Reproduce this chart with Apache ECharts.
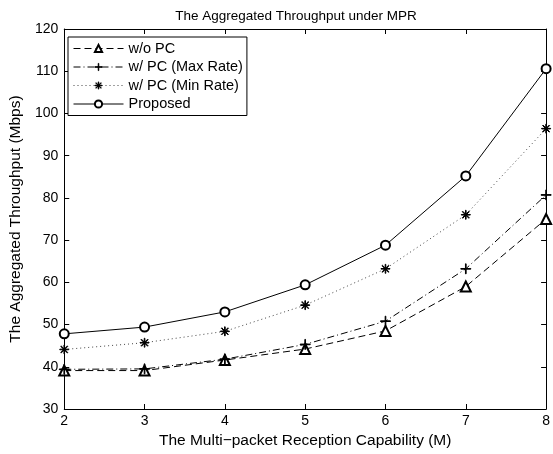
<!DOCTYPE html>
<html><head><meta charset="utf-8">
<script src="https://cdn.jsdelivr.net/npm/echarts@6/dist/echarts.min.js"></script>
<style>html,body{margin:0;padding:0;background:#fff}#c{width:553px;height:454px}</style>
</head><body><div id="c"></div>
<script>
var categoriesM = [2, 3, 4, 5, 6, 7, 8];
var woPC = [39.1, 39.1, 41.6, 44.2, 48.5, 59.0, 75.0];
var pcMaxRate = [39.4, 39.5, 41.8, 45.3, 50.8, 63.2, 80.7];
var pcMinRate = [44.1, 45.7, 48.4, 54.6, 63.2, 76.0, 96.4];
var proposed = [47.8, 49.4, 53.0, 59.4, 68.8, 85.2, 110.6];
var seriesNames = ['w/o PC', 'w/ PC (Max Rate)', 'w/ PC (Min Rate)', 'Proposed'];
var yTicks = [30, 40, 50, 60, 70, 80, 90, 100, 110, 120];

function pairs(vals){ return categoriesM.map(function(m,i){ return [m, vals[i]]; }); }

var plusPath = 'path://M0,5.6H12V6.4H0Z M5.6,0H6.4V12H5.6Z';
var starPath = 'path://M0,5.6H12V6.4H0Z M5.6,0H6.4V12H5.6Z M1.3,1.9L1.9,1.3L10.7,10.1L10.1,10.7Z M10.1,1.3L10.7,1.9L1.9,10.7L1.3,10.1Z';

var font = 'Liberation Sans, Arial, sans-serif';
var chart = echarts.init(document.getElementById('c'), null, {renderer:'canvas'});
function mk(name, data, symbol, size, ltype, color){
  return {
    name: name, type: 'line', data: pairs(data), symbol: symbol, symbolSize: size,
    xAxisIndex: 0, yAxisIndex: 0,
    lineStyle: {color: color || '#000', width: 1, type: ltype},
    itemStyle: {color: '#000', borderColor: '#000', borderWidth: 1},
    emphasis: {disabled: true}, animation: false, z: 3
  };
}
var axCommon = {
  axisLine: {show: true, onZero: false, lineStyle: {color: '#000', width: 1}},
  axisTick: {show: true, inside: true, length: 5, lineStyle: {color: '#000'}},
  splitLine: {show: false}
};
chart.setOption({
  animation: false,
  backgroundColor: '#fff',
  title: {text: 'The Aggregated Throughput under MPR', left: 291, top: 4, textAlign: 'center',
    textStyle: {fontFamily: font, fontSize: 13.5, fontWeight: 'normal', color: '#000'}},
  grid: {left: 62, right: 6, top: 29, bottom: 42, containLabel: false},
  legend: {
    left: 68, top: 37, orient: 'vertical', itemGap: 3.5, itemWidth: 50, itemHeight: 9,
    padding: [4, 4, 4, 5], borderColor: '#000', borderWidth: 1, backgroundColor: '#fff',
    textStyle: {fontFamily: font, fontSize: 14.5, color: '#000'},
    lineStyle: {width: 1},
    itemStyle: {borderWidth: 1},
    data: seriesNames
  },
  xAxis: [
    Object.assign({type: 'value', min: 2, max: 8, interval: 1, position: 'bottom',
      name: 'The Multi\u2212packet Reception Capability (M)', nameLocation: 'middle', nameGap: 24,
      nameTextStyle: {fontFamily: font, fontSize: 15.5, color: '#000'},
      axisLabel: {fontFamily: font, fontSize: 14, color: '#000', margin: 5}}, axCommon),
    Object.assign({type: 'value', min: 2, max: 8, interval: 1, position: 'top',
      axisLabel: {show: false}}, axCommon)
  ],
  yAxis: [
    Object.assign({type: 'value', min: yTicks[0], max: yTicks[yTicks.length-1], interval: 10, position: 'left',
      name: 'The Aggregated Throughput (Mbps)', nameLocation: 'middle', nameGap: 34,
      nameTextStyle: {fontFamily: font, fontSize: 15.5, color: '#000'},
      axisLabel: {fontFamily: font, fontSize: 14, color: '#000', margin: 6}}, axCommon),
    Object.assign({type: 'value', min: 30, max: 120, interval: 10, position: 'right',
      axisLabel: {show: false}}, axCommon)
  ],
  series: [
    mk(seriesNames[0], woPC, 'emptyTriangle', 10, [7, 4]),
    mk(seriesNames[1], pcMaxRate, plusPath, 10, [7, 3, 1, 3]),
    mk(seriesNames[2], pcMinRate, starPath, 9, [1, 3], '#444'),
    mk(seriesNames[3], proposed, 'emptyCircle', 9, 'solid')
  ]
});
</script></body></html>
